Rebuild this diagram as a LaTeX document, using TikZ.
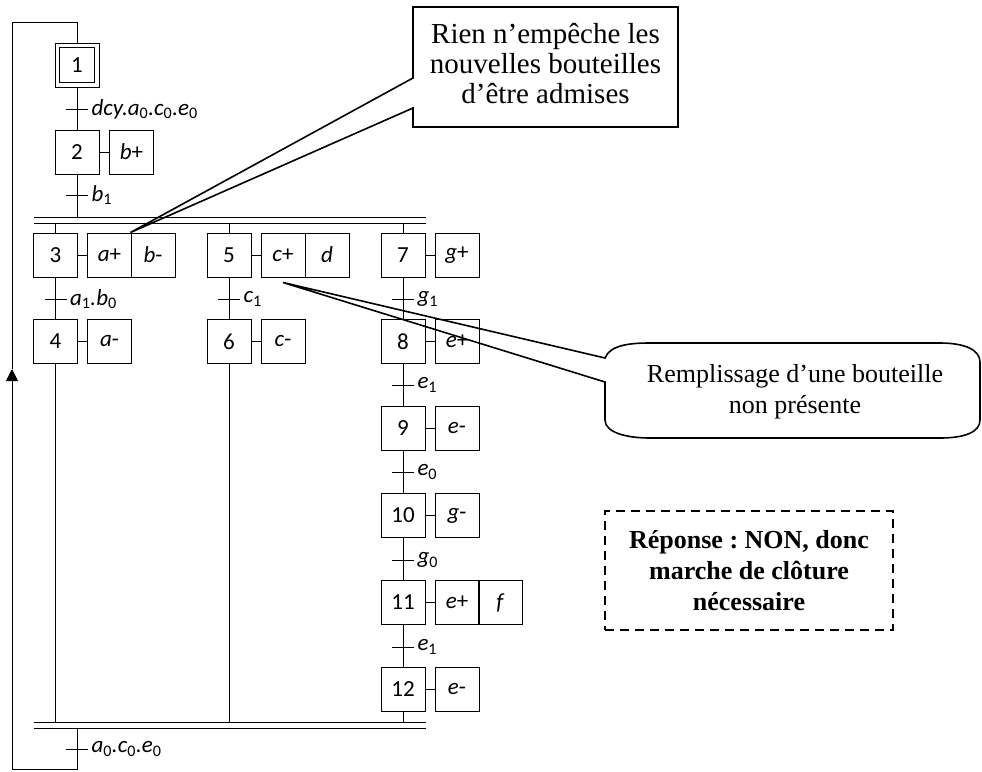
\documentclass[tikz,border=0pt]{standalone}
\usepackage{fontspec}
\setmainfont{Liberation Serif}
\newfontfamily\grafcetfont{Carlito}
\usetikzlibrary{arrows.meta}
\frenchspacing

\newcommand{\grafcet}{\grafcetfont\fontsize{23}{27}\selectfont}
\newcommand{\bulletxt}{\fontsize{26}{31}\selectfont}
\newcommand{\grandtxt}{\fontsize{29}{30}\selectfont}
\newcommand{\ind}[1]{\textsubscript{\upshape #1}}
\newcommand{\act}[2]{\textit{#1}#2}

\begin{document}
\begin{tikzpicture}[x=1pt, y=-1pt, line width=1pt,
    >={Triangle[width=12pt,length=12pt]},
    etape/.style={draw, minimum size=44pt, inner sep=0pt, font=\grafcet},
    action/.style={draw, minimum size=44pt, inner sep=0pt, font=\grafcet},
    recept/.style={font=\grafcet\itshape, anchor=west, inner sep=3pt},
    bulle/.style={font=\bulletxt, align=center},
    trait/.style={line width=1.6pt}]
    \useasboundingbox (0,0) rectangle (982,771);

    % etapes
    \node[etape] (e1) at (77,65) {1};
    \draw ([xshift=5pt,yshift=-5pt]e1.north west) rectangle ([xshift=-5pt,yshift=5pt]e1.south east);
    \node[etape] (e2) at (77,152) {2};
    \node[etape] (e3) at (55.5,255) {3};
    \node[etape] (e4) at (55.5,341.5) {4};
    \node[etape] (e5) at (229,255) {5};
    \node[etape] (e6) at (229,341.5) {6};
    \node[etape] (e7) at (403,255) {7};
    \node[etape] (e8) at (403,341.5) {8};
    \node[etape] (e9) at (403,428.5) {9};
    \node[etape] (e10) at (403,515.5) {10};
    \node[etape] (e11) at (403,602.5) {11};
    \node[etape] (e12) at (403,689.5) {12};

    % actions
    \node[action] (a2) at (131.5,152) {\act{b}{+}};
    \node[action] (a3) at (109.5,255) {\act{a}{+}};
    \node[action] (b3) at (153,255) {\act{b}{-}};
    \node[action] (a4) at (109.5,341.5) {\act{a}{-}};
    \node[action] (c5) at (283,255) {\act{c}{+}};
    \node[action] (d5) at (327,255) {\act{d}{}};
    \node[action] (c6) at (283,341.5) {\act{c}{-}};
    \node[action] (g7) at (457,255) {\act{g}{+}};
    \node[action] (p8) at (457,341.5) {\act{e}{+}};
    \node[action] (m9) at (457,428.5) {\act{e}{-}};
    \node[action] (g10) at (457,515.5) {\act{g}{-}};
    \node[action] (p11) at (457,602.5) {\act{e}{+}};
    \node[action] (f11) at (500.5,602.5) {\act{f}{}};
    \node[action] (m12) at (457,689.5) {\act{e}{-}};
    \foreach \s/\a in {e2/a2, e3/a3, e4/a4, e5/c5, e6/c6, e7/g7, e8/p8, e9/m9, e10/g10, e11/p11, e12/m12}
        \draw (\s) -- (\a);

    % receptivites
    \foreach \t/\px/\py/\txt in {
        t1/77/109/{dcy.a\ind{0}.c\ind{0}.e\ind{0}},
        t2/77/195/{b\ind{1}},
        t3/55.5/299/{a\ind{1}.b\ind{0}},
        t5/229/299/{c\ind{1}},
        t7/403/299/{g\ind{1}},
        t8/403/385/{e\ind{1}},
        t9/403/472/{e\ind{0}},
        t10/403/560/{g\ind{0}},
        t11/403/647/{e\ind{1}},
        t12/77/749/{a\ind{0}.c\ind{0}.e\ind{0}}}
    {
        \coordinate (\t) at (\px,\py);
        \draw ([xshift=-11pt]\t) -- ([xshift=11pt]\t) node[recept] {\txt};
    }

    % doubles traits
    \coordinate (dhg) at (34,217);
    \coordinate (dhd) at (426,217);
    \coordinate (dbg) at (34,223);
    \coordinate (dbd) at (426,223);
    \coordinate (fhg) at (34,722);
    \coordinate (fhd) at (426,722);
    \coordinate (fbg) at (34,728);
    \coordinate (fbd) at (426,728);
    \draw (dhg) -- (dhd) (dbg) -- (dbd);
    \draw (fhg) -- (fhd) (fbg) -- (fbd);

    % liaisons
    \draw (e1) -- (e2);
    \draw (e2) -- (e2 |- dhg);
    \draw (e3 |- dbg) -- (e3) (e3) -- (e4) (e4) -- (e4 |- fhg);
    \draw (e5 |- dbg) -- (e5) (e5) -- (e6) (e6) -- (e6 |- fhg);
    \draw (e7 |- dbg) -- (e7) (e7) -- (e8) (e8) -- (e9) (e9) -- (e10)
          (e10) -- (e11) (e11) -- (e12) (e12) -- (e12 |- fhg);

    % bouclage
    \coordinate (bb) at (77,769);
    \coordinate (cb) at (12,769);
    \coordinate (fl) at (12,369);
    \coordinate (ch) at (12,22);
    \coordinate (ch1) at (77,22);
    \draw[->] (t12 |- fbg) -- (bb) -- (cb) -- (fl);
    \draw (fl) -- (ch) -- (ch1) -- (e1);

    % bulles
    \node[bulle, font=\grandtxt] (bul1) at (545.5,64) {Rien n’empêche les\\nouvelles bouteilles\\d’être admises};
    \draw[trait] (413,7) -- (678,7) -- (678,127) -- (413,127) -- (413,108)
        -- (b3.north west) -- (413,78) -- cycle;

    \coordinate (pointe) at ([yshift=-5pt]c5.south);
    \node[bulle] (bul2) at (795,392) {Remplissage d’une bouteille\\non présente};
    \draw[trait] (605,358) .. controls (610,345) and (630,343) .. (650,343) -- (940,343)
        .. controls (965,343) and (980,350) .. (980,362) -- (980,420)
        .. controls (980,432) and (965,438) .. (940,438) -- (650,438)
        .. controls (625,438) and (605,432) .. (605,420) -- (605,382)
        -- (pointe) -- cycle;

    \node[bulle, draw, line width=1.6pt, dash pattern=on 9pt off 6pt, font=\bulletxt\bfseries,
          minimum width=288pt, minimum height=119pt] (rep) at (749,570.5)
        {Réponse : NON, donc\\marche de clôture\\nécessaire};
\end{tikzpicture}
\end{document}
